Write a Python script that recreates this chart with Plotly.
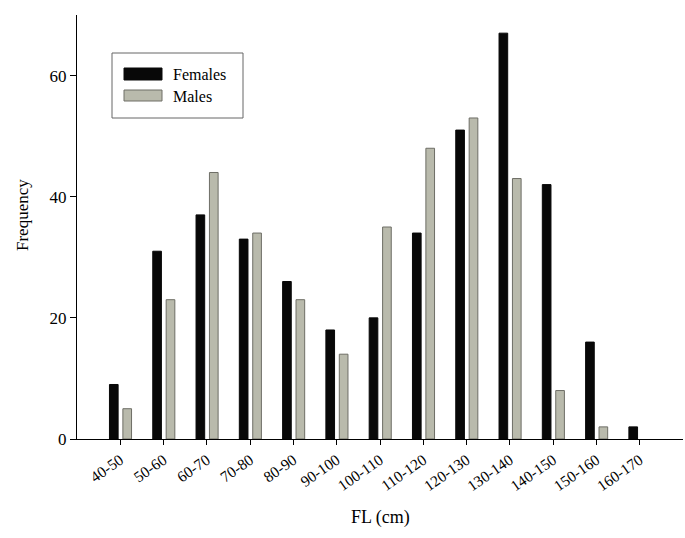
import plotly.graph_objects as go

categories = ["40-50", "50-60", "60-70", "70-80", "80-90", "90-100", "100-110",
              "110-120", "120-130", "130-140", "140-150", "150-160", "160-170"]
females = [9, 31, 37, 33, 26, 18, 20, 34, 51, 67, 42, 16, 2]
males = [5, 23, 44, 34, 23, 14, 35, 48, 53, 43, 8, 2, 0]

FONT = "Liberation Serif, Times New Roman, serif"

fig = go.Figure()
fig.add_trace(go.Bar(x=categories, y=females, name="Females",
                     marker=dict(color="#080808",
                                 line=dict(color="#080808", width=[1 if v > 0 else 0 for v in females])),
                     width=0.2, offset=-0.25, showlegend=False))
fig.add_trace(go.Bar(x=categories, y=males, name="Males",
                     marker=dict(color="#b9baac",
                                 line=dict(color="#6e6e66", width=[1 if v > 0 else 0 for v in males])),
                     width=0.2, offset=0.06, showlegend=False))

# manual legend (paper coords)
W, H = 606, 424
def px(x):
    return (x - 77) / W
def py(y):
    return (439 - y) / H

shapes = [
    dict(type="rect", xref="paper", yref="paper", x0=px(112), x1=px(243), y0=py(118), y1=py(53),
         line=dict(color="#666666", width=1), fillcolor="white"),
    dict(type="rect", xref="paper", yref="paper", x0=px(124), x1=px(162), y0=py(80), y1=py(68),
         line=dict(color="#080808", width=1), fillcolor="#080808"),
    dict(type="rect", xref="paper", yref="paper", x0=px(124), x1=px(162), y0=py(101), y1=py(90),
         line=dict(color="#6e6e66", width=1), fillcolor="#b9baac"),
]
annotations = [
    dict(text="Females", xref="paper", yref="paper", x=px(171), y=py(74), xanchor="left",
         yanchor="middle", showarrow=False, font=dict(family=FONT, size=16, color="black")),
    dict(text="Males", xref="paper", yref="paper", x=px(171), y=py(96), xanchor="left",
         yanchor="middle", showarrow=False, font=dict(family=FONT, size=16, color="black")),
    dict(text="Frequency", xref="paper", yref="paper", x=px(22), y=py(215), xanchor="center",
         yanchor="middle", textangle=-90, showarrow=False,
         font=dict(family=FONT, size=17, color="black")),
    dict(text="FL (cm)", xref="paper", yref="paper", x=px(380), y=py(517), xanchor="center",
         yanchor="middle", showarrow=False, font=dict(family=FONT, size=18, color="black")),
]

fig.update_layout(
    width=685, height=538,
    margin=dict(l=77, r=2, t=15, b=99),
    paper_bgcolor="white", plot_bgcolor="white",
    font=dict(family=FONT, size=15, color="black"),
    barmode="group",
    shapes=shapes, annotations=annotations,
    xaxis=dict(range=[-1, 13], showline=True, linecolor="black", linewidth=1,
               ticks="outside", ticklen=5, tickcolor="black", tickangle=-35,
               tickfont=dict(family=FONT, size=15.5), showgrid=False, zeroline=False),
    yaxis=dict(range=[0, 70], showline=True, linecolor="black", linewidth=1,
               ticks="outside", ticklen=6, tickcolor="black", tickvals=[0, 20, 40, 60],
               tickfont=dict(family=FONT, size=17), showgrid=False, zeroline=False),
)

fig.write_html("out.html")
